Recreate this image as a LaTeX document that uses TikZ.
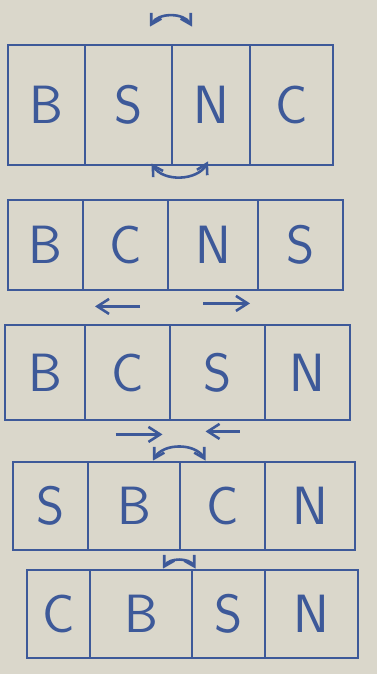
\documentclass[tikz,border=0pt]{standalone}
\usepackage{xcolor}
\usepackage{tikz}
\usetikzlibrary{arrows.meta, calc}
\definecolor{Ink}{HTML}{3D5999}
\definecolor{Paper}{HTML}{DAD7CB}

\begin{document}
\begin{tikzpicture}[x=0.03cm, y=0.03cm,
    cell/.style={draw=Ink, line width=2.4pt, inner sep=0pt, text=Ink,
                 font=\sffamily\fontsize{46}{46}\selectfont},
    row1/.style={cell, minimum height=3.6cm},
    row2/.style={cell, minimum height=2.7cm},
    row3/.style={cell, minimum height=2.85cm},
    row4/.style={cell, minimum height=2.64cm},
    row5/.style={cell, minimum height=2.64cm},
    swap/.style={{Straight Barb[length=3mm, width=3.5mm]}-{Straight Barb[length=3mm, width=3.5mm]},
                 line width=2.2pt, Ink},
    arrow/.style={-{Straight Barb[length=3.5mm, width=4.5mm]}, line width=2.2pt, Ink}
  ]
    \fill[Paper] (0,0) rectangle (377,-674);

    \node[row1, minimum width=2.31cm] (b1) at (46.5,-105) {B};
    \node[row1, minimum width=2.61cm] (s1) at (128.5,-105) {S};
    \node[row1, minimum width=2.34cm] (n1) at (211,-105) {N};
    \node[row1, minimum width=2.49cm] (c1) at (291.5,-105) {C};

    \node[row2, minimum width=2.25cm] (b2) at (45.5,-245) {B};
    \node[row2, minimum width=2.55cm] (c2) at (125.5,-245) {C};
    \node[row2, minimum width=2.70cm] (n2) at (213,-245) {N};
    \node[row2, minimum width=2.55cm] (s2) at (300.5,-245) {S};

    \node[row3, minimum width=2.40cm] (b3) at (45,-372.5) {B};
    \node[row3, minimum width=2.55cm] (c3) at (127.5,-372.5) {C};
    \node[row3, minimum width=2.85cm] (s3) at (217.5,-372.5) {S};
    \node[row3, minimum width=2.55cm] (n3) at (307.5,-372.5) {N};

    \node[row4, minimum width=2.25cm] (s4) at (50.5,-506) {S};
    \node[row4, minimum width=2.76cm] (b4) at (134,-506) {B};
    \node[row4, minimum width=2.55cm] (c4) at (222.5,-506) {C};
    \node[row4, minimum width=2.70cm] (n4) at (310,-506) {N};

    \node[row5, minimum width=1.89cm] (c5) at (58.5,-614) {C};
    \node[row5, minimum width=3.06cm] (b5) at (141,-614) {B};
    \node[row5, minimum width=2.19cm] (s5) at (228.5,-614) {S};
    \node[row5, minimum width=2.79cm] (n5) at (311.5,-614) {N};

    \draw[swap] ($(s1.north)+(21.5,17)$) to[bend left=60] ($(n1.north)+(-19,17)$);
    \draw[swap] ($(s1.south)+(23,3)$) to[bend right=60] ($(n1.south)+(-3,5)$);

    \draw[arrow] ($(c2.south)+(14.5,-15)$) -- ($(c2.south)+(-30.5,-15)$);
    \draw[arrow] ($(n2.south)+(-10,-12)$) -- ($(n2.south)+(37,-12)$);

    \draw[arrow] ($(c3.south)+(-12,-13)$) -- ($(c3.south)+(35,-13)$);
    \draw[arrow] ($(s3.south)+(22,-10)$) -- ($(s3.south)+(-12,-10)$);

    \draw[swap] ($(b4.north)+(19,0)$) to[bend left=60] ($(c4.north)+(-17,0)$);
    \draw[swap] ($(b5.north)+(22,0)$) to[bend left=60] ($(s5.north)+(-33,0)$);
  \end{tikzpicture}
\end{document}
